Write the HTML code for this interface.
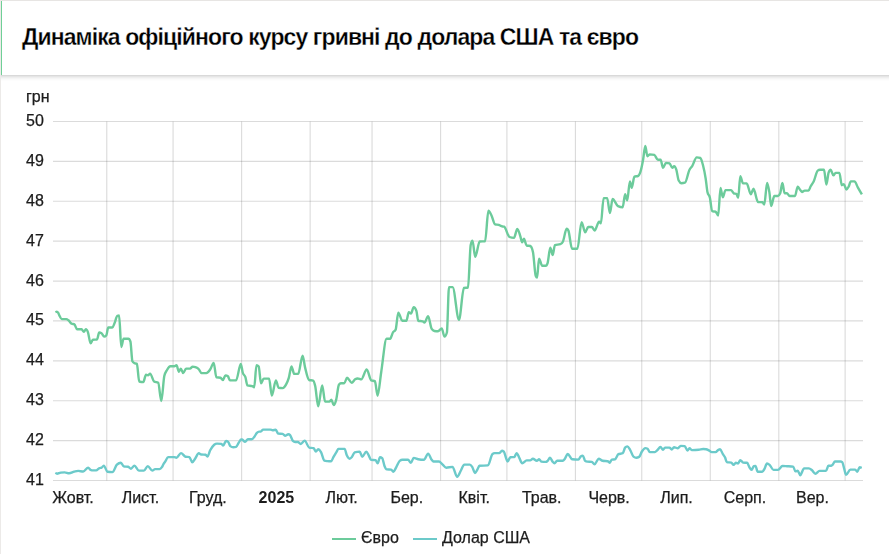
<!DOCTYPE html>
<html><head><meta charset="utf-8"><style>
html,body{margin:0;padding:0;background:#fff;width:889px;height:554px;overflow:hidden;position:relative}
.top{position:absolute;left:0;top:0;width:889px;height:1px;background:#e7e5e3}
.lb{position:absolute;left:0;top:0;width:1px;height:554px;background:#eceae8}
.hdr{position:absolute;left:1px;top:1px;width:888px;height:74px;background:#fff;border-left:0;}
.gb{position:absolute;left:1px;top:1px;width:1px;height:74px;background:#6fcf97}
.sh{position:absolute;left:1px;top:75px;width:888px;height:6px;background:linear-gradient(#d9d9d9 0,#d9d9d9 1px,#e5e5e5 1px,#e5e5e5 2px,#eeeeee 2px,#eeeeee 3px,#f5f5f5 3px,#f5f5f5 4px,#fafafa 4px,#fafafa 5px,#fdfdfd 5px)}
.title{position:absolute;left:22px;top:24px;font:bold 23px "Liberation Sans",sans-serif;color:#000;letter-spacing:-0.9px;white-space:nowrap;-webkit-text-stroke:0.3px #fff}
svg{position:absolute;left:0;top:0;will-change:transform}
.g{stroke:rgba(0,0,0,0.14);stroke-width:1.15;fill:none}
text{font-family:"Liberation Sans",sans-serif;fill:#1c1c1c;stroke:#1c1c1c;stroke-width:0.25px}
.yl{font-size:16px}
.xl{font-size:16px}
.b{font-weight:bold;stroke-width:0}
.lg{font-size:16px}
.eu{fill:none;stroke:#6ccb9b;stroke-width:2.4;stroke-linejoin:round}
.us{fill:none;stroke:#6ccaca;stroke-width:2.4;stroke-linejoin:round}
</style></head><body>
<div class="top"></div><div class="lb"></div>
<div class="hdr"></div><div class="gb"></div><div class="sh"></div>
<div class="title">Динаміка офіційного курсу гривні до долара США та євро</div>
<svg width="889" height="554" viewBox="0 0 889 554">
<line x1="53" x2="863" y1="480.50" y2="480.50" class="g"/>
<line x1="53" x2="863" y1="440.61" y2="440.61" class="g"/>
<line x1="53" x2="863" y1="400.72" y2="400.72" class="g"/>
<line x1="53" x2="863" y1="360.83" y2="360.83" class="g"/>
<line x1="53" x2="863" y1="320.94" y2="320.94" class="g"/>
<line x1="53" x2="863" y1="281.06" y2="281.06" class="g"/>
<line x1="53" x2="863" y1="241.17" y2="241.17" class="g"/>
<line x1="53" x2="863" y1="201.28" y2="201.28" class="g"/>
<line x1="53" x2="863" y1="161.39" y2="161.39" class="g"/>
<line x1="53" x2="863" y1="121.50" y2="121.50" class="g"/>
<line x1="106.76" x2="106.76" y1="121.5" y2="480.5" class="g"/>
<line x1="173.08" x2="173.08" y1="121.5" y2="480.5" class="g"/>
<line x1="241.61" x2="241.61" y1="121.5" y2="480.5" class="g"/>
<line x1="310.14" x2="310.14" y1="121.5" y2="480.5" class="g"/>
<line x1="372.04" x2="372.04" y1="121.5" y2="480.5" class="g"/>
<line x1="440.58" x2="440.58" y1="121.5" y2="480.5" class="g"/>
<line x1="506.90" x2="506.90" y1="121.5" y2="480.5" class="g"/>
<line x1="575.43" x2="575.43" y1="121.5" y2="480.5" class="g"/>
<line x1="641.75" x2="641.75" y1="121.5" y2="480.5" class="g"/>
<line x1="710.28" x2="710.28" y1="121.5" y2="480.5" class="g"/>
<line x1="778.81" x2="778.81" y1="121.5" y2="480.5" class="g"/>
<line x1="845.13" x2="845.13" y1="121.5" y2="480.5" class="g"/>
<text x="26" y="485" class="yl">41</text>
<text x="26" y="445" class="yl">42</text>
<text x="26" y="405" class="yl">43</text>
<text x="26" y="365" class="yl">44</text>
<text x="26" y="325" class="yl">45</text>
<text x="26" y="286" class="yl">46</text>
<text x="26" y="246" class="yl">47</text>
<text x="26" y="206" class="yl">48</text>
<text x="26" y="166" class="yl">49</text>
<text x="26" y="126" class="yl">50</text>
<text x="26" y="102" class="yl">грн</text>
<text x="73.0" y="503" class="xl" text-anchor="middle">Жовт.</text>
<text x="140.4" y="503" class="xl" text-anchor="middle">Лист.</text>
<text x="207.8" y="503" class="xl" text-anchor="middle">Груд.</text>
<text x="276.4" y="503" class="xl b" text-anchor="middle">2025</text>
<text x="341.6" y="503" class="xl" text-anchor="middle">Лют.</text>
<text x="406.8" y="503" class="xl" text-anchor="middle">Бер.</text>
<text x="474.2" y="503" class="xl" text-anchor="middle">Квіт.</text>
<text x="541.7" y="503" class="xl" text-anchor="middle">Трав.</text>
<text x="609.1" y="503" class="xl" text-anchor="middle">Черв.</text>
<text x="676.5" y="503" class="xl" text-anchor="middle">Лип.</text>
<text x="745.0" y="503" class="xl" text-anchor="middle">Серп.</text>
<text x="812.5" y="503" class="xl" text-anchor="middle">Вер.</text>
<path d="M55.40,312.20C55.87,312.00 56.33,311.60 56.80,311.60C57.23,311.60 57.67,311.95 58.10,312.60C58.57,313.30 59.03,314.88 59.50,315.80C60.23,317.25 60.97,319.10 61.70,319.10C63.23,319.10 64.77,319.10 66.30,319.10C67.03,319.10 67.77,319.75 68.50,320.30C69.57,321.11 70.63,323.15 71.70,323.70C72.60,324.17 73.50,323.93 74.40,324.40C75.30,324.87 76.20,329.30 77.10,329.30C78.60,329.30 80.10,329.30 81.60,329.30C82.37,329.30 83.13,331.80 83.90,331.80C84.57,331.80 85.23,329.10 85.90,329.10C86.57,329.10 87.23,330.35 87.90,332.10C88.80,334.46 89.70,343.30 90.60,343.30C91.37,343.30 92.13,339.77 92.90,339.70C94.27,339.57 95.63,339.63 97.00,339.50C97.73,339.43 98.47,332.50 99.20,332.50C99.97,332.50 100.73,332.73 101.50,333.20C102.40,333.75 103.30,336.60 104.20,336.60C104.93,336.60 105.67,336.13 106.40,335.20C107.00,334.44 107.60,327.50 108.20,327.50C109.57,327.50 110.93,327.50 112.30,327.50C113.07,327.50 113.83,324.75 114.60,323.00C115.50,320.95 116.40,316.10 117.30,315.80C117.90,315.60 118.50,315.50 119.10,315.50C119.83,315.50 120.57,347.00 121.30,347.00C122.07,347.00 122.83,338.80 123.60,338.80C125.20,338.80 126.80,338.80 128.40,338.80C129.07,338.80 129.73,339.70 130.40,341.50C131.07,343.30 131.73,359.93 132.40,361.20C133.10,362.53 133.80,362.79 134.50,363.20C135.30,363.67 136.10,363.43 136.90,363.90C137.67,364.35 138.43,381.28 139.20,381.50C140.57,381.90 141.93,382.10 143.30,382.10C144.20,382.10 145.10,374.70 146.00,374.70C146.67,374.70 147.33,375.40 148.00,375.40C148.70,375.40 149.40,373.60 150.10,373.60C151.43,373.60 152.77,380.65 154.10,381.50C155.47,382.37 156.83,381.93 158.20,382.80C159.23,383.46 160.27,401.10 161.30,401.10C162.30,401.10 163.30,380.62 164.30,376.10C165.20,372.03 166.10,371.57 167.00,370.00C168.13,368.03 169.27,366.30 170.40,366.30C171.73,366.30 173.07,366.30 174.40,366.30C175.10,366.30 175.80,365.20 176.50,365.20C177.30,365.20 178.10,371.70 178.90,371.70C179.53,371.70 180.17,368.60 180.80,368.60C181.60,368.60 182.40,373.10 183.20,373.10C184.13,373.10 185.07,368.60 186.00,368.60C187.33,368.60 188.67,368.60 190.00,368.60C190.90,368.60 191.80,366.60 192.70,366.60C193.60,366.60 194.50,366.84 195.40,367.20C196.53,367.65 197.67,368.10 198.80,369.30C199.70,370.25 200.60,373.10 201.50,373.10C203.10,373.10 204.70,373.10 206.30,373.10C207.63,373.10 208.97,371.24 210.30,369.30C211.43,367.65 212.57,362.90 213.70,362.90C214.60,362.90 215.50,377.27 216.40,377.40C217.77,377.60 219.13,377.50 220.50,377.70C221.27,377.81 222.03,380.10 222.80,380.10C223.70,380.10 224.60,375.40 225.50,375.40C226.30,375.40 227.10,375.70 227.90,376.30C228.60,376.83 229.30,380.40 230.00,380.40C232.03,380.40 234.07,380.40 236.10,380.40C237.67,380.40 239.23,363.90 240.80,363.90C241.43,363.90 242.07,370.36 242.70,372.50C243.60,375.54 244.50,374.41 245.40,377.20C246.07,379.26 246.73,385.21 247.40,385.40C249.00,385.87 250.60,385.63 252.20,386.10C252.87,386.29 253.53,387.40 254.20,387.40C254.97,387.40 255.73,365.10 256.50,365.10C257.23,365.10 257.97,365.53 258.70,366.40C259.47,367.31 260.23,383.30 261.00,383.30C261.90,383.30 262.80,378.60 263.70,378.60C265.50,378.60 267.30,378.60 269.10,378.60C270.00,378.60 270.90,395.50 271.80,395.50C273.17,395.50 274.53,380.40 275.90,380.40C276.80,380.40 277.70,387.52 278.60,387.70C279.97,387.97 281.33,388.10 282.70,388.10C283.80,388.10 284.90,386.67 286.00,384.70C286.93,383.03 287.87,381.04 288.80,377.90C289.70,374.88 290.60,366.40 291.50,366.40C292.40,366.40 293.30,373.90 294.20,373.90C295.53,373.90 296.87,373.90 298.20,373.90C299.67,373.90 301.13,355.60 302.60,355.60C303.40,355.60 304.20,363.75 305.00,367.10C306.37,372.82 307.73,379.59 309.10,380.00C310.43,380.40 311.77,380.20 313.10,380.60C313.80,380.81 314.50,383.07 315.20,386.10C316.20,390.43 317.20,406.40 318.20,406.40C319.53,406.40 320.87,385.40 322.20,385.40C323.17,385.40 324.13,401.60 325.10,401.60C326.53,401.60 327.97,401.60 329.40,401.60C330.07,401.60 330.73,399.60 331.40,399.60C332.17,399.60 332.93,405.00 333.70,405.00C334.53,405.00 335.37,402.75 336.20,399.60C337.10,396.20 338.00,385.96 338.90,384.70C339.57,383.77 340.23,383.30 340.90,383.30C342.03,383.30 343.17,383.30 344.30,383.30C345.20,383.30 346.10,377.70 347.00,377.70C348.57,377.70 350.13,382.70 351.70,382.70C352.83,382.70 353.97,379.99 355.10,379.30C355.97,378.77 356.83,378.50 357.70,378.50C358.90,378.50 360.10,379.40 361.30,379.40C363.10,379.40 364.90,369.50 366.70,369.50C368.20,369.50 369.70,379.57 371.20,380.30C372.43,380.90 373.67,380.60 374.90,381.20C375.80,381.64 376.70,395.70 377.60,395.70C378.80,395.70 380.00,379.87 381.20,372.20C383.00,360.70 384.80,338.80 386.60,338.80C387.80,338.80 389.00,338.80 390.20,338.80C391.10,338.80 392.00,334.00 392.90,332.50C393.80,331.00 394.70,331.60 395.60,329.80C396.50,328.00 397.40,312.60 398.30,312.60C399.63,312.60 400.97,320.80 402.30,320.80C403.67,320.80 405.03,320.80 406.40,320.80C407.20,320.80 408.00,312.30 408.80,312.30C409.53,312.30 410.27,313.50 411.00,313.50C411.90,313.50 412.80,307.20 413.70,307.20C414.60,307.20 415.50,308.40 416.40,310.80C417.00,312.40 417.60,320.67 418.20,320.80C419.70,321.13 421.20,320.97 422.70,321.30C423.30,321.43 423.90,322.60 424.50,322.60C425.70,322.60 426.90,316.20 428.10,316.20C429.30,316.20 430.50,327.03 431.70,328.90C432.60,330.30 433.50,330.85 434.40,331.00C435.60,331.20 436.80,331.30 438.00,331.30C439.23,331.30 440.47,328.50 441.70,328.50C442.63,328.50 443.57,336.60 444.50,336.60C445.30,336.60 446.10,335.23 446.90,332.50C447.60,330.11 448.30,287.10 449.00,287.10C450.20,287.10 451.40,287.10 452.60,287.10C454.73,287.10 456.87,319.90 459.00,319.90C460.63,319.90 462.27,288.40 463.90,288.00C465.27,287.67 466.63,287.83 468.00,287.50C468.90,287.28 469.80,249.60 470.70,245.10C471.30,242.10 471.90,240.60 472.50,240.60C473.40,240.60 474.30,256.90 475.20,256.90C476.70,256.90 478.20,241.67 479.70,241.50C481.50,241.30 483.30,241.40 485.10,241.20C486.20,241.08 487.30,210.80 488.40,210.80C489.40,210.80 490.40,213.37 491.40,215.30C492.63,217.68 493.87,224.06 495.10,224.40C496.30,224.73 497.50,224.57 498.70,224.90C499.60,225.15 500.50,225.90 501.40,226.20C502.30,226.50 503.20,226.37 504.10,226.70C505.90,227.37 507.70,236.28 509.50,237.00C511.00,237.60 512.50,237.90 514.00,237.90C515.10,237.90 516.20,228.90 517.30,228.90C518.30,228.90 519.30,233.01 520.30,236.10C520.90,237.95 521.50,242.40 522.10,242.40C522.70,242.40 523.30,238.80 523.90,238.80C524.80,238.80 525.70,245.26 526.60,245.50C527.83,245.83 529.07,245.67 530.30,246.00C531.20,246.24 532.10,248.10 533.00,252.30C533.90,256.50 534.80,273.49 535.70,275.80C536.17,277.00 536.63,277.60 537.10,277.60C537.73,277.60 538.37,258.60 539.00,258.60C540.07,258.60 541.13,265.80 542.20,265.80C543.40,265.80 544.60,265.80 545.80,265.80C546.40,265.80 547.00,264.90 547.60,263.10C548.50,260.40 549.40,247.80 550.30,247.80C551.10,247.80 551.90,255.00 552.70,255.00C553.43,255.00 554.17,245.34 554.90,245.10C556.70,244.50 558.50,244.80 560.30,244.20C561.20,243.90 562.10,243.27 563.00,241.40C564.20,238.91 565.40,228.80 566.60,228.80C567.20,228.80 567.80,229.40 568.40,230.60C569.60,233.00 570.80,248.70 572.00,248.70C573.80,248.70 575.60,248.70 577.40,248.70C578.80,248.70 580.20,222.10 581.60,222.10C582.80,222.10 584.00,232.40 585.20,232.40C586.20,232.40 587.20,227.00 588.20,227.00C589.43,227.00 590.67,227.00 591.90,227.00C592.80,227.00 593.70,230.60 594.60,230.60C596.10,230.60 597.60,221.60 599.10,221.60C599.70,221.60 600.30,223.40 600.90,223.40C601.80,223.40 602.70,198.10 603.60,198.10C604.80,198.10 606.00,198.10 607.20,198.10C608.10,198.10 609.00,213.10 609.90,213.10C610.80,213.10 611.70,199.00 612.60,199.00C614.40,199.00 616.20,205.36 618.00,206.20C619.57,206.93 621.13,207.30 622.70,207.30C623.50,207.30 624.30,194.10 625.10,194.10C625.80,194.10 626.50,200.40 627.20,200.40C628.10,200.40 629.00,181.40 629.90,181.40C630.50,181.40 631.10,187.80 631.70,187.80C632.60,187.80 633.50,176.90 634.40,176.60C635.60,176.20 636.80,176.40 638.00,176.00C638.93,175.69 639.87,173.82 640.80,170.60C641.57,167.96 642.33,164.04 643.10,159.80C643.83,155.75 644.57,145.90 645.30,145.90C646.00,145.90 646.70,156.20 647.40,156.20C648.20,156.20 649.00,154.40 649.80,154.40C651.30,154.40 652.80,154.57 654.30,154.90C655.50,155.17 656.70,159.80 657.90,159.80C658.80,159.80 659.70,159.80 660.60,159.80C661.40,159.80 662.20,167.90 663.00,167.90C664.00,167.90 665.00,162.90 666.00,162.90C667.20,162.90 668.40,163.07 669.60,163.40C670.50,163.65 671.40,167.90 672.30,167.90C672.93,167.90 673.57,166.10 674.20,166.10C674.90,166.10 675.60,167.59 676.30,169.70C677.10,172.11 677.90,178.90 678.70,180.50C679.60,182.30 680.50,183.20 681.40,183.20C682.60,183.20 683.80,183.03 685.00,182.70C686.50,182.28 688.00,172.57 689.50,169.70C690.40,167.97 691.30,167.50 692.20,166.10C693.70,163.76 695.20,157.40 696.70,157.40C697.90,157.40 699.10,157.60 700.30,158.00C701.20,158.30 702.10,161.75 703.00,165.20C703.90,168.65 704.80,172.82 705.70,178.70C706.30,182.62 706.90,189.60 707.50,192.30C708.30,195.90 709.10,194.28 709.90,197.70C710.63,200.84 711.37,210.99 712.10,211.20C713.27,211.53 714.43,211.37 715.60,211.70C716.47,211.95 717.33,215.50 718.20,215.50C718.97,215.50 719.73,187.90 720.50,187.90C721.27,187.90 722.03,197.30 722.80,197.30C723.70,197.30 724.60,190.10 725.50,190.10C727.33,190.10 729.17,190.10 731.00,190.10C731.90,190.10 732.80,192.90 733.70,193.30C734.60,193.70 735.50,193.50 736.40,193.90C737.00,194.17 737.60,197.80 738.20,197.80C738.90,197.80 739.60,176.20 740.30,176.20C741.20,176.20 742.10,183.40 743.00,183.40C744.23,183.40 745.47,183.40 746.70,183.40C748.07,183.40 749.43,194.20 750.80,194.20C751.70,194.20 752.60,188.80 753.50,188.80C755.00,188.80 756.50,201.80 758.00,202.00C759.50,202.20 761.00,202.10 762.50,202.30C763.10,202.38 763.70,204.50 764.30,204.50C765.23,204.50 766.17,182.90 767.10,182.90C767.87,182.90 768.63,187.76 769.40,192.40C770.00,196.03 770.60,206.00 771.20,206.00C772.23,206.00 773.27,196.00 774.30,196.00C775.50,196.00 776.70,196.00 777.90,196.00C778.67,196.00 779.43,195.10 780.20,193.30C780.93,191.58 781.67,183.00 782.40,183.00C783.13,183.00 783.87,193.30 784.60,193.30C785.37,193.30 786.13,193.30 786.90,193.30C787.80,193.30 788.70,196.00 789.60,196.00C791.40,196.00 793.20,196.00 795.00,196.00C795.90,196.00 796.80,186.60 797.70,186.60C798.43,186.60 799.17,188.58 799.90,189.50C800.60,190.38 801.30,192.00 802.00,192.00C802.90,192.00 803.80,190.60 804.70,190.60C805.97,190.60 807.23,190.60 808.50,190.60C809.23,190.60 809.97,187.65 810.70,186.30C811.77,184.33 812.83,183.20 813.90,180.90C815.17,178.17 816.43,171.52 817.70,170.60C818.43,170.07 819.17,169.80 819.90,169.80C821.27,169.80 822.63,169.80 824.00,169.80C824.80,169.80 825.60,184.60 826.40,184.60C827.13,184.60 827.87,174.73 828.60,172.70C829.30,170.77 830.00,169.80 830.70,169.80C831.60,169.80 832.50,175.40 833.40,175.40C834.13,175.40 834.87,172.90 835.60,172.90C836.87,172.90 838.13,172.90 839.40,172.90C840.20,172.90 841.00,185.20 841.80,185.20C842.50,185.20 843.20,184.10 843.90,184.10C844.73,184.10 845.57,189.50 846.40,189.50C847.13,189.50 847.87,188.15 848.60,186.80C849.33,185.45 850.07,181.40 850.80,181.40C852.03,181.40 853.27,181.40 854.50,181.40C855.60,181.40 856.70,185.36 857.80,187.30C859.17,189.71 860.53,192.03 861.90,194.40" class="eu"/>
<path d="M55.40,472.80C55.93,473.10 56.47,473.70 57.00,473.70C58.23,473.70 59.47,472.73 60.70,472.60C62.00,472.47 63.30,472.40 64.60,472.40C66.10,472.40 67.60,473.30 69.10,473.30C70.80,473.30 72.50,472.13 74.20,471.70C75.50,471.37 76.80,470.90 78.10,470.90C79.80,470.90 81.50,471.50 83.20,471.50C84.87,471.50 86.53,467.60 88.20,467.60C88.97,467.60 89.73,469.47 90.50,469.80C91.43,470.20 92.37,470.40 93.30,470.40C94.23,470.40 95.17,470.40 96.10,470.40C97.23,470.40 98.37,468.56 99.50,468.10C100.23,467.80 100.97,467.93 101.70,467.60C102.40,467.28 103.10,465.60 103.80,465.60C105.00,465.60 106.20,471.51 107.40,471.70C109.07,471.97 110.73,472.10 112.40,472.10C113.90,472.10 115.40,466.20 116.90,464.70C118.23,463.37 119.57,462.70 120.90,462.70C121.83,462.70 122.77,466.23 123.70,466.40C125.20,466.67 126.70,466.53 128.20,466.80C129.13,466.97 130.07,468.70 131.00,468.70C132.13,468.70 133.27,465.60 134.40,465.60C135.90,465.60 137.40,470.60 138.90,470.60C140.57,470.60 142.23,470.60 143.90,470.60C145.20,470.60 146.50,466.10 147.80,466.10C149.30,466.10 150.80,470.60 152.30,470.60C153.23,470.60 154.17,469.10 155.10,469.10C156.60,469.10 158.10,469.10 159.60,469.10C160.37,469.10 161.13,468.35 161.90,467.20C162.47,466.35 163.03,464.75 163.60,463.80C164.13,462.91 164.67,462.37 165.20,461.60C166.17,460.21 167.13,457.10 168.10,457.10C170.13,457.10 172.17,457.10 174.20,457.10C174.97,457.10 175.73,457.80 176.50,457.80C178.00,457.80 179.50,453.10 181.00,453.10C182.50,453.10 184.00,456.39 185.50,456.70C186.80,456.97 188.10,456.83 189.40,457.10C190.33,457.29 191.27,462.30 192.20,462.30C193.17,462.30 194.13,459.99 195.10,458.70C196.33,457.05 197.57,453.30 198.80,453.30C199.60,453.30 200.40,454.39 201.20,454.50C202.70,454.70 204.20,454.60 205.70,454.80C206.27,454.88 206.83,456.50 207.40,456.50C208.33,456.50 209.27,452.05 210.20,450.30C211.53,447.79 212.87,445.75 214.20,444.70C215.13,443.97 216.07,443.60 217.00,443.60C218.50,443.60 220.00,443.70 221.50,443.90C222.07,443.98 222.63,445.50 223.20,445.50C224.13,445.50 225.07,441.00 226.00,441.00C226.73,441.00 227.47,441.30 228.20,441.90C228.90,442.47 229.60,445.54 230.30,446.10C231.30,446.90 232.30,447.30 233.30,447.30C234.23,447.30 235.17,447.17 236.10,446.90C237.03,446.63 237.97,443.74 238.90,442.40C239.67,441.30 240.43,439.40 241.20,439.40C241.47,439.40 241.73,439.43 242.00,439.50C243.03,439.76 244.07,441.80 245.10,441.80C246.03,441.80 246.97,439.20 247.90,439.20C249.20,439.20 250.50,439.20 251.80,439.20C252.73,439.20 253.67,437.62 254.60,436.40C255.37,435.40 256.13,433.60 256.90,432.80C257.63,432.03 258.37,431.60 259.10,431.60C259.67,431.60 260.23,431.60 260.80,431.60C261.57,431.60 262.33,429.60 263.10,429.60C265.53,429.60 267.97,429.60 270.40,429.60C271.13,429.60 271.87,430.20 272.60,430.20C273.67,430.20 274.73,429.80 275.80,429.80C276.60,429.80 277.40,433.49 278.20,433.60C279.70,433.80 281.20,433.70 282.70,433.90C283.47,434.00 284.23,435.80 285.00,435.80C286.13,435.80 287.27,434.30 288.40,434.30C288.97,434.30 289.53,434.60 290.10,435.20C291.03,436.19 291.97,439.97 292.90,440.90C293.63,441.63 294.37,442.00 295.10,442.00C296.03,442.00 296.97,442.00 297.90,442.00C298.83,442.00 299.77,444.00 300.70,444.00C302.03,444.00 303.37,440.60 304.70,440.60C306.20,440.60 307.70,447.20 309.20,447.60C310.70,448.00 312.20,447.80 313.70,448.20C314.43,448.40 315.17,451.60 315.90,451.60C316.67,451.60 317.43,449.30 318.20,449.30C319.13,449.30 320.07,450.53 321.00,452.10C322.13,454.00 323.27,460.20 324.40,460.60C325.33,460.93 326.27,461.00 327.20,461.10C328.50,461.23 329.80,461.30 331.10,461.30C331.87,461.30 332.63,458.54 333.40,457.20C334.50,455.28 335.60,453.39 336.70,451.60C337.27,450.68 337.83,448.90 338.40,448.90C340.47,448.90 342.53,448.90 344.60,448.90C345.33,448.90 346.07,453.71 346.80,455.30C347.73,457.32 348.67,458.70 349.60,458.70C350.37,458.70 351.13,457.89 351.90,457.00C352.83,455.91 353.77,452.56 354.70,452.30C356.37,451.83 358.03,451.60 359.70,451.60C360.53,451.60 361.37,456.80 362.20,456.80C363.57,456.80 364.93,451.60 366.30,451.60C367.10,451.60 367.90,453.90 368.70,455.30C369.47,456.64 370.23,459.70 371.00,459.80C372.50,460.00 374.00,459.90 375.50,460.10C376.23,460.20 376.97,463.20 377.70,463.20C378.47,463.20 379.23,457.20 380.00,457.20C380.73,457.20 381.47,457.50 382.20,458.10C382.97,458.73 383.73,464.11 384.50,466.00C385.23,467.81 385.97,469.33 386.70,469.40C388.20,469.53 389.70,469.47 391.20,469.60C391.90,469.66 392.60,471.80 393.30,471.80C394.30,471.80 395.30,468.79 396.30,467.10C397.43,465.19 398.57,461.79 399.70,460.90C400.63,460.17 401.57,459.80 402.50,459.80C404.37,459.80 406.23,459.80 408.10,459.80C409.03,459.80 409.97,462.80 410.90,462.80C411.83,462.80 412.77,457.90 413.70,457.90C415.20,457.90 416.70,458.89 418.20,459.20C420.10,459.59 422.00,459.80 423.90,459.80C425.30,459.80 426.70,453.60 428.10,453.60C429.30,453.60 430.50,458.32 431.70,459.80C432.27,460.50 432.83,461.50 433.40,461.50C435.27,461.50 437.13,461.50 439.00,461.50C440.13,461.50 441.27,463.34 442.40,464.30C443.70,465.40 445.00,467.70 446.30,467.70C448.37,467.70 450.43,466.90 452.50,466.90C454.07,466.90 455.63,476.70 457.20,476.70C458.43,476.70 459.67,472.60 460.90,470.50C462.03,468.57 463.17,464.60 464.30,464.60C466.17,464.60 468.03,464.60 469.90,464.60C470.67,464.60 471.43,465.73 472.20,466.90C473.13,468.33 474.07,473.00 475.00,473.00C475.73,473.00 476.47,471.07 477.20,469.90C477.97,468.68 478.73,465.87 479.50,465.80C482.30,465.53 485.10,465.67 487.90,465.40C489.40,465.26 490.90,455.63 492.40,454.20C493.17,453.47 493.93,453.10 494.70,453.10C496.20,453.10 497.70,453.10 499.20,453.10C500.13,453.10 501.07,450.80 502.00,450.80C502.57,450.80 503.13,451.00 503.70,451.40C505.00,452.32 506.30,461.50 507.60,461.50C508.53,461.50 509.47,457.29 510.40,457.20C511.73,457.07 513.07,457.13 514.40,457.00C515.13,456.93 515.87,453.10 516.60,453.10C517.53,453.10 518.47,456.42 519.40,458.10C520.33,459.78 521.27,463.20 522.20,463.20C523.70,463.20 525.20,460.40 526.70,460.40C527.83,460.40 528.97,460.40 530.10,460.40C531.03,460.40 531.97,458.70 532.90,458.70C534.20,458.70 535.50,460.80 536.80,460.80C537.57,460.80 538.33,459.30 539.10,459.30C539.83,459.30 540.57,461.50 541.30,461.60C542.80,461.80 544.30,461.90 545.80,461.90C546.37,461.90 546.93,461.47 547.50,461.00C548.33,460.31 549.17,457.80 550.00,457.80C550.87,457.80 551.73,460.64 552.60,461.60C553.23,462.30 553.87,463.20 554.50,463.20C555.37,463.20 556.23,460.80 557.10,460.80C558.97,460.80 560.83,460.80 562.70,460.80C563.43,460.80 564.17,459.63 564.90,458.70C565.83,457.51 566.77,454.00 567.70,454.00C569.20,454.00 570.70,459.15 572.20,459.30C574.27,459.50 576.33,459.60 578.40,459.60C579.17,459.60 579.93,457.13 580.70,456.50C581.43,455.90 582.17,455.60 582.90,455.60C583.67,455.60 584.43,460.58 585.20,461.00C585.93,461.40 586.67,461.50 587.40,461.60C588.90,461.80 590.40,461.70 591.90,461.90C592.77,462.02 593.63,464.40 594.50,464.40C595.90,464.40 597.30,458.70 598.70,458.70C600.00,458.70 601.30,460.60 602.60,460.80C604.30,461.07 606.00,460.93 607.70,461.20C608.33,461.30 608.97,462.70 609.60,462.70C610.33,462.70 611.07,459.74 611.80,459.60C612.87,459.40 613.93,459.50 615.00,459.30C616.13,459.09 617.27,454.72 618.40,454.20C619.87,453.53 621.33,453.87 622.80,453.20C623.57,452.85 624.33,448.44 625.10,447.60C625.83,446.80 626.57,446.40 627.30,446.40C628.23,446.40 629.17,448.34 630.10,449.80C631.23,451.58 632.37,455.71 633.50,456.60C634.43,457.33 635.37,457.70 636.30,457.70C637.23,457.70 638.17,457.43 639.10,456.90C640.03,456.37 640.97,452.91 641.90,451.50C643.03,449.79 644.17,448.10 645.30,448.10C646.07,448.10 646.83,448.30 647.60,448.70C648.33,449.08 649.07,452.10 649.80,452.10C651.50,452.10 653.20,452.10 654.90,452.10C655.63,452.10 656.37,451.03 657.10,450.40C658.23,449.42 659.37,447.00 660.50,447.00C661.33,447.00 662.17,449.80 663.00,449.80C663.67,449.80 664.33,447.60 665.00,447.60C666.50,447.60 668.00,447.60 669.50,447.60C670.23,447.60 670.97,449.50 671.70,449.50C672.47,449.50 673.23,447.20 674.00,447.20C675.30,447.20 676.60,448.30 677.90,448.30C678.83,448.30 679.77,445.90 680.70,445.90C682.03,445.90 683.37,445.97 684.70,446.10C685.63,446.19 686.57,450.60 687.50,450.60C688.17,450.60 688.83,448.30 689.50,448.30C690.33,448.30 691.17,450.10 692.00,450.10C694.23,450.10 696.47,450.00 698.70,449.80C700.20,449.67 701.70,449.00 703.20,449.00C704.17,449.00 705.13,449.07 706.10,449.20C707.03,449.33 707.97,449.92 708.90,450.40C709.83,450.88 710.77,452.10 711.70,452.10C713.00,452.10 714.30,452.10 715.60,452.10C716.53,452.10 717.47,450.26 718.40,449.80C718.97,449.52 719.53,449.30 720.10,449.30C721.03,449.30 721.97,452.67 722.90,454.20C723.63,455.40 724.37,456.01 725.10,457.60C725.67,458.83 726.23,461.97 726.80,462.10C728.30,462.43 729.80,462.27 731.30,462.60C732.07,462.77 732.83,464.90 733.60,464.90C734.33,464.90 735.07,462.80 735.80,462.80C736.57,462.80 737.33,463.50 738.10,463.50C738.83,463.50 739.57,460.10 740.30,460.10C741.23,460.10 742.17,462.51 743.10,462.60C744.43,462.73 745.77,462.67 747.10,462.80C747.83,462.87 748.57,465.93 749.30,467.10C750.07,468.32 750.83,469.90 751.60,469.90C752.33,469.90 753.07,466.37 753.80,466.20C754.37,466.07 754.93,466.00 755.50,466.00C756.23,466.00 756.97,471.80 757.70,471.80C759.20,471.80 760.70,471.80 762.20,471.80C762.97,471.80 763.73,470.10 764.50,468.80C765.33,467.39 766.17,463.50 767.00,463.50C767.87,463.50 768.73,464.18 769.60,464.90C770.90,465.99 772.20,469.90 773.50,469.90C775.00,469.90 776.50,469.90 778.00,469.90C779.50,469.90 781.00,466.00 782.50,466.00C784.00,466.00 785.50,466.12 787.00,466.20C789.07,466.31 791.13,466.33 793.20,466.60C793.93,466.69 794.67,471.40 795.40,471.40C796.17,471.40 796.93,470.70 797.70,470.70C798.53,470.70 799.37,475.20 800.20,475.20C801.50,475.20 802.80,468.40 804.10,468.40C805.70,468.40 807.30,468.40 808.90,468.40C809.87,468.40 810.83,469.26 811.80,470.00C813.00,470.92 814.20,473.70 815.40,473.70C816.77,473.70 818.13,470.90 819.50,470.90C821.67,470.90 823.83,470.90 826.00,470.90C826.80,470.90 827.60,465.80 828.40,465.80C829.37,465.80 830.33,465.80 831.30,465.80C831.83,465.80 832.37,465.00 832.90,464.40C833.57,463.65 834.23,461.50 834.90,461.50C836.80,461.50 838.70,461.50 840.60,461.50C841.13,461.50 841.67,461.70 842.20,462.10C842.90,462.62 843.60,466.91 844.30,469.20C844.90,471.16 845.50,474.90 846.10,474.90C847.50,474.90 848.90,469.60 850.30,469.60C851.93,469.60 853.57,469.60 855.20,469.60C855.90,469.60 856.60,471.70 857.30,471.70C858.10,471.70 858.90,467.20 859.70,467.20C860.37,467.20 861.03,467.73 861.70,468.00" class="us"/>
<line x1="332" x2="356" y1="539" y2="539" stroke="#6ccb9b" stroke-width="2"/>
<text x="361" y="543" class="lg">Євро</text>
<line x1="413" x2="437" y1="539" y2="539" stroke="#6ccaca" stroke-width="2"/>
<text x="442" y="543" class="lg">Долар США</text>
</svg>
</body></html>
